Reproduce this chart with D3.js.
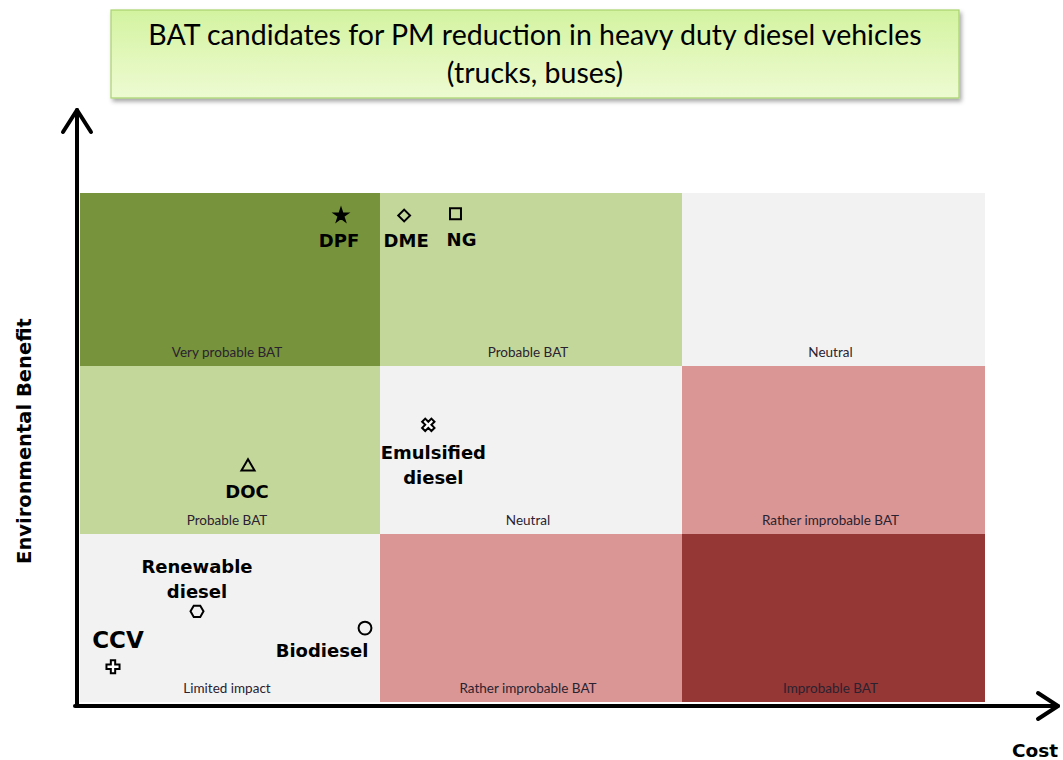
<!DOCTYPE html>
<html>
<head>
<meta charset="utf-8">
<script src="https://cdn.jsdelivr.net/npm/d3@7"></script>
<style>
  body { margin: 0; background: #fff; }
  svg { display: block; }
</style>
</head>
<body>
<div id="chart"></div>
<script>
// grid cells: column (cost level), row (benefit level), label, colour class
var cellCols = [0, 1, 2, 0, 1, 2, 0, 1, 2];
var cellRows = [2, 2, 2, 1, 1, 1, 0, 0, 0];
var cellLabels = ["Very probable  BAT", "Probable BAT", "Neutral",
                  "Probable BAT", "Neutral", "Rather improbable BAT",
                  "Limited impact", "Rather improbable BAT", "Improbable BAT"];
var cellKinds = ["vp", "p", "n", "p", "n", "ri", "n", "ri", "i"];

// candidates: cost (x), environmental benefit (y)
var names = ["DPF", "DME", "NG", "Emulsified diesel", "DOC", "Renewable diesel", "CCV", "Biodiesel"];
var costs = [0.87, 1.08, 1.25, 1.16, 0.56, 0.39, 0.11, 0.95];
var benefits = [2.87, 2.87, 2.88, 1.65, 1.40, 0.54, 0.21, 0.44];
var markers = ["star", "diamond", "square", "xcross", "triangle", "hexagon", "plus", "circle"];

var W = 1063, H = 760;
var svg = d3.select("#chart").append("svg")
    .attr("width", W)
    .attr("height", H);

// piecewise scales, one segment per grid band
var x = d3.scaleLinear().domain([0, 1, 2, 3]).range([80, 380, 682, 985]);
var y = d3.scaleLinear().domain([0, 1, 2, 3]).range([702, 534, 366, 193]);

var fills = {vp: "#77933c", p: "#c4d79b", n: "#f2f2f2", ri: "#da9694", i: "#953735"};

var defs = svg.append("defs");
var grad = defs.append("linearGradient").attr("id", "tg")
    .attr("x1", 0).attr("y1", 0).attr("x2", 0).attr("y2", 1);
grad.append("stop").attr("offset", "0%").attr("stop-color", "#d3f3a0");
grad.append("stop").attr("offset", "100%").attr("stop-color", "#eefbd2");
var sh = defs.append("filter").attr("id", "sh")
    .attr("x", "-5%").attr("y", "-20%").attr("width", "110%").attr("height", "150%");
sh.append("feDropShadow").attr("dx", 2).attr("dy", 3).attr("stdDeviation", 2)
    .attr("flood-color", "#000").attr("flood-opacity", 0.35);

// title box
svg.append("rect")
    .attr("x", 111).attr("y", 10).attr("width", 848).attr("height", 88)
    .attr("fill", "url(#tg)").attr("stroke", "#a9d36e").attr("stroke-width", 1.2)
    .attr("filter", "url(#sh)");
svg.append("text")
    .attr("x", 535).attr("y", 45)
    .attr("text-anchor", "middle")
    .style("font-family", "Lato, 'Open Sans', sans-serif")
    .style("font-size", "28.5px")
    .text("BAT candidates for PM reduction in heavy duty diesel vehicles");
svg.append("text")
    .attr("x", 535).attr("y", 83)
    .attr("text-anchor", "middle")
    .style("font-family", "Lato, 'Open Sans', sans-serif")
    .style("font-size", "28.5px")
    .text("(trucks, buses)");

// cells
var cells = svg.selectAll(".cell")
    .data(d3.range(cellCols.length))
    .enter().append("g")
    .attr("class", "cell");

cells.append("rect")
    .attr("x", function(i) { return x(cellCols[i]); })
    .attr("y", function(i) { return y(cellRows[i] + 1); })
    .attr("width", function(i) { return x(cellCols[i] + 1) - x(cellCols[i]); })
    .attr("height", function(i) { return y(cellRows[i]) - y(cellRows[i] + 1); })
    .attr("fill", function(i) { return fills[cellKinds[i]]; });

cells.append("text")
    .attr("x", function(i) { return (x(cellCols[i]) + x(cellCols[i] + 1)) / 2 - 3; })
    .attr("y", function(i) { return y(cellRows[i]) - 9; })
    .attr("text-anchor", "middle")
    .style("font-family", "Lato, 'Open Sans', sans-serif")
    .style("font-size", "13.5px")
    .attr("fill", "#2a2230")
    .text(function(i) { return cellLabels[i]; });

// axes with open arrowheads
var axisG = svg.append("g")
    .attr("fill", "none").attr("stroke", "#000")
    .attr("stroke-width", 4).attr("stroke-linecap", "round").attr("stroke-linejoin", "round");
axisG.append("path").attr("d", "M77,706V110");
axisG.append("path").attr("d", "M63,132L77,110L91,132");
axisG.append("path").attr("d", "M75,706H1058");
axisG.append("path").attr("d", "M1038,693L1058,706L1038,719");

svg.append("text")
    .attr("transform", "translate(31,441) rotate(-90)")
    .attr("text-anchor", "middle")
    .style("font-family", "'DejaVu Sans', Verdana, sans-serif")
    .style("font-weight", "bold")
    .style("font-size", "19.5px")
    .text("Environmental Benefit");
svg.append("text")
    .attr("x", 1035).attr("y", 757)
    .attr("text-anchor", "middle")
    .style("font-family", "'DejaVu Sans', Verdana, sans-serif")
    .style("font-weight", "bold")
    .style("font-size", "18.5px")
    .text("Cost");

// marker shapes
function hexPath(r) {
    return d3.line()(d3.range(7).map(function(k) {
        var a = Math.PI / 3 * k;
        return [r * Math.cos(a), r * Math.sin(a)];
    })) + "Z";
}
var shapes = {
    star: {d: d3.symbol(d3.symbolStar, 50)(), fill: "#000", rot: 0},
    diamond: {d: d3.symbol(d3.symbolSquare, 70)(), fill: "none", rot: 45},
    square: {d: d3.symbol(d3.symbolSquare, 120)(), fill: "none", rot: 0},
    xcross: {d: d3.symbol(d3.symbolCross, 95)(), fill: "#fff", rot: 45},
    triangle: {d: d3.symbol(d3.symbolTriangle, 75)(), fill: "none", rot: 0},
    hexagon: {d: hexPath(6.5), fill: "none", rot: 0},
    plus: {d: d3.symbol(d3.symbolCross, 95)(), fill: "#fff", rot: 0},
    circle: {d: d3.symbol(d3.symbolCircle, 130)(), fill: "none", rot: 0}
};

// label placement relative to marker (dx, dy of first line baseline)
var labelOff = {
    "DPF": [-2, 32], "DME": [2, 32], "NG": [6, 32],
    "Emulsified diesel": [5, 34], "DOC": [-1, 31],
    "Renewable diesel": [0, -38], "CCV": [5, -19], "Biodiesel": [-43, 29]
};
var labelSize = {"CCV": 23};

var pts = svg.selectAll(".pt")
    .data(d3.range(names.length))
    .enter().append("g")
    .attr("class", "pt")
    .attr("transform", function(i) { return "translate(" + x(costs[i]) + "," + y(benefits[i]) + ")"; });

pts.append("path")
    .attr("d", function(i) { return shapes[markers[i]].d; })
    .attr("transform", function(i) { return "rotate(" + shapes[markers[i]].rot + ")"; })
    .attr("fill", function(i) { return shapes[markers[i]].fill; })
    .attr("stroke", "#000")
    .attr("stroke-width", 2);

pts.append("text")
    .attr("text-anchor", "middle")
    .style("font-family", "'DejaVu Sans', Verdana, sans-serif")
    .style("font-weight", "bold")
    .style("font-size", function(i) { return (labelSize[names[i]] || 18) + "px"; })
    .attr("fill", "#000")
    .each(function(i) {
        var off = labelOff[names[i]];
        var words = names[i].split(" ");
        var t = d3.select(this);
        words.forEach(function(w, k) {
            t.append("tspan")
                .attr("x", off[0])
                .attr("y", off[1] + k * 25)
                .text(w);
        });
    });
</script>
</body>
</html>
